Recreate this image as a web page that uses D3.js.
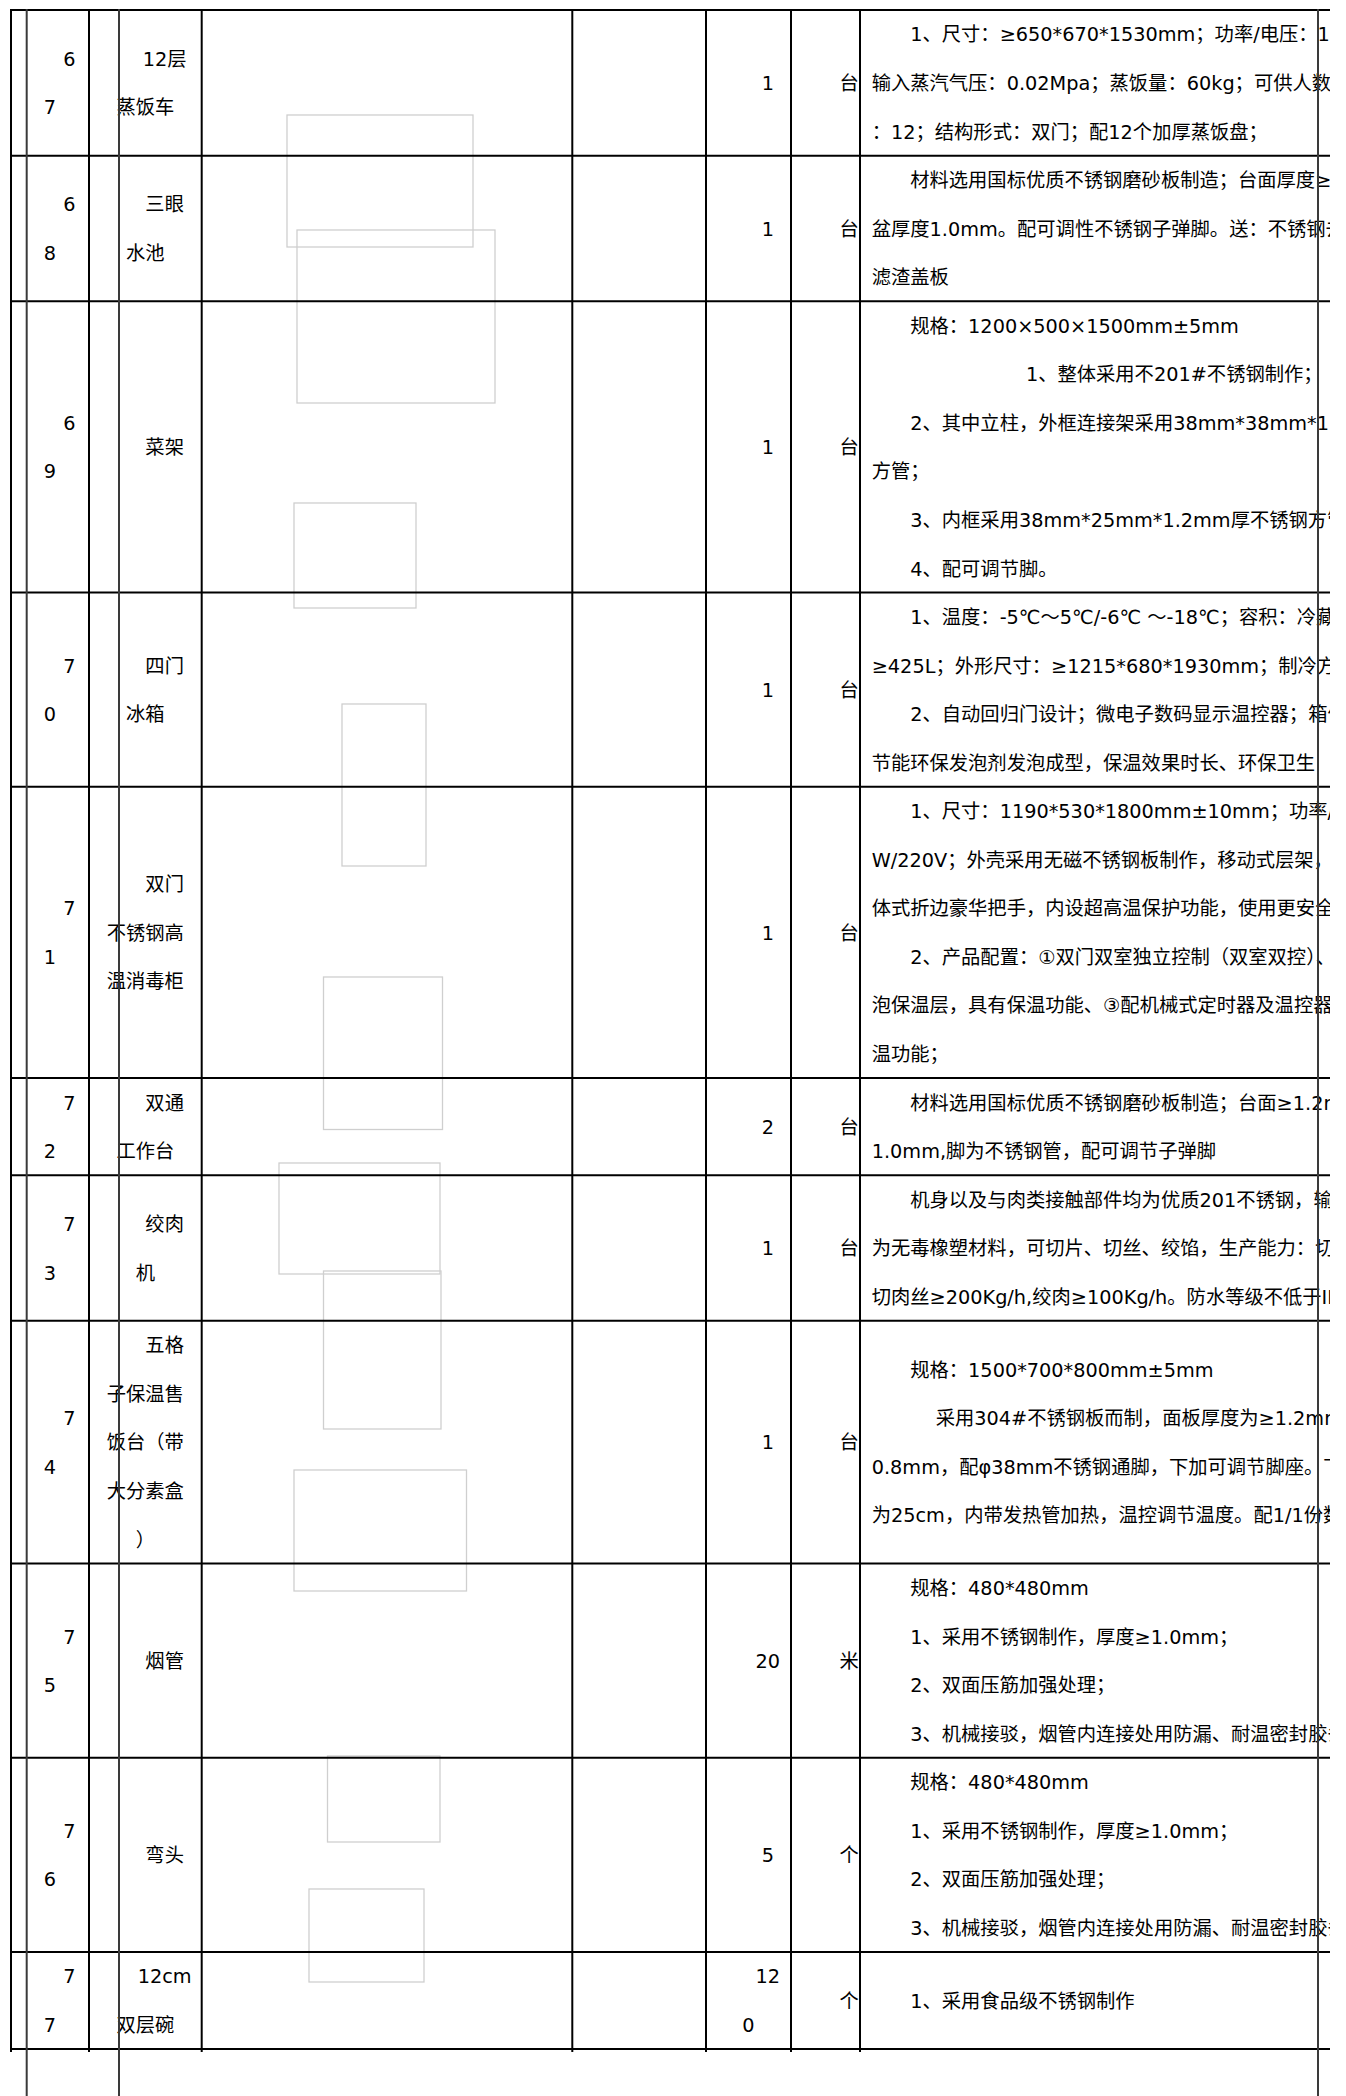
<!DOCTYPE html>
<html><head><meta charset="utf-8">
<script src="https://cdn.jsdelivr.net/npm/d3@7"></script>
<style>
html,body{margin:0;padding:0;background:#fff;}
svg{display:block;}
text{font-family:"DejaVu Sans","Noto Sans CJK SC",sans-serif;font-size:19.3px;fill:#000;white-space:pre;}
</style></head><body>
<svg id="c" width="1346" height="2096"></svg>
<script>
// ---------- data ----------
const itemNos = ["67","68","69","70","71","72","73","74","75","76","77"];
const itemNames = ["12层蒸饭车","三眼水池","菜架","四门冰箱","双门不锈钢高温消毒柜","双通工作台","绞肉机","五格子保温售饭台（带大分素盒）","烟管","弯头","12cm双层碗"];
const quantities = ["1","1","1","1","1","2","1","1","20","5","120"];
const units = ["台","台","台","台","台","台","台","台","米","个","个"];
const I = "\u3000\u3000";
const specLines = [
  [I+"1、尺寸：≥650*670*1530mm；功率/电压：12kW/380V", "输入蒸汽气压：0.02Mpa；蒸饭量：60kg；可供人数", "：12；结构形式：双门；配12个加厚蒸饭盘；"],
  [I+"材料选用国标优质不锈钢磨砂板制造；台面厚度≥1.2mm", "盆厚度1.0mm。配可调性不锈钢子弹脚。送：不锈钢去", "滤渣盖板"],
  [I+"规格：1200×500×1500mm±5mm", I+I+I+I+"1、整体采用不201#不锈钢制作；", I+"2、其中立柱，外框连接架采用38mm*38mm*1.2mm厚", "方管；", I+"3、内框采用38mm*25mm*1.2mm厚不锈钢方管", I+"4、配可调节脚。"],
  [I+"1、温度：-5℃～5℃/-6℃ ～-18℃；容积：冷藏", "≥425L；外形尺寸：≥1215*680*1930mm；制冷方式", I+"2、自动回归门设计；微电子数码显示温控器；箱体", "节能环保发泡剂发泡成型，保温效果时长、环保卫生"],
  [I+"1、尺寸：1190*530*1800mm±10mm；功率/", "W/220V；外壳采用无磁不锈钢板制作，移动式层架，", "体式折边豪华把手，内设超高温保护功能，使用更安全", I+"2、产品配置：①双门双室独立控制（双室双控）、", "泡保温层，具有保温功能、③配机械式定时器及温控器", "温功能；"],
  [I+"材料选用国标优质不锈钢磨砂板制造；台面≥1.2mm", "1.0mm,脚为不锈钢管，配可调节子弹脚"],
  [I+"机身以及与肉类接触部件均为优质201不锈钢，输", "为无毒橡塑材料，可切片、切丝、绞馅，生产能力：切", "切肉丝≥200Kg/h,绞肉≥100Kg/h。防水等级不低于IPX4"],
  [I+"规格：1500*700*800mm±5mm", I+"\u3000 采用304#不锈钢板而制，面板厚度为≥1.2mm", "0.8mm，配φ38mm不锈钢通脚，下加可调节脚座。下", "为25cm，内带发热管加热，温控调节温度。配1/1份数"],
  [I+"规格：480*480mm", I+"1、采用不锈钢制作，厚度≥1.0mm；", I+"2、双面压筋加强处理；", I+"3、机械接驳，烟管内连接处用防漏、耐温密封胶条"],
  [I+"规格：480*480mm", I+"1、采用不锈钢制作，厚度≥1.0mm；", I+"2、双面压筋加强处理；", I+"3、机械接驳，烟管内连接处用防漏、耐温密封胶条"],
  [I+"1、采用食品级不锈钢制作"]
];

// ---------- layout ----------
const W = 1346, H = 2096;
const FS = 19.3, LINE_H = 48.55, TOP = 10, IND = 2 * FS;
const colEdges = [11, 89, 201.7, 572.3, 706, 791, 860, 1330];
const overlayLines = [26.7, 119, 1318];
const photoFrames = [
  [287,115,186,132],[297,230,198,173],[294,503,122,105],[342,704,84,162],
  [323.5,977,119,152.5],[279,1163,161,111],[323.5,1271,117.5,158],
  [294,1470,172.5,121],[327.5,1756,112.5,86],[309,1889,115,93]
];

const svg = d3.select("#c");
const defs = svg.append("defs");
defs.append("clipPath").attr("id","clipUnit").append("rect").attr("x",0).attr("y",0).attr("width",colEdges[6]).attr("height",H);
defs.append("clipPath").attr("id","clipSpec").append("rect").attr("x",0).attr("y",0).attr("width",colEdges[7]).attr("height",H);

// measuring
const meas = svg.append("text").attr("x",-1000).attr("y",-1000);
function tw(s){ meas.text(s); return meas.node().getComputedTextLength(); }

function wrapChars(str, cw){
  const lines = []; let cur = ""; let first = true;
  for (const ch of Array.from(str)) {
    const avail = first ? cw - IND : cw;
    if (cur && tw(cur + ch) > avail + 0.6) { lines.push(cur); cur = ch; first = false; }
    else cur += ch;
  }
  if (cur) lines.push(cur);
  return lines;
}

const pad = [10, 9.5, 10, 10, 10];
const centerCols = [
  {col:0, data:itemNos, pad:10},
  {col:1, data:itemNames, pad:9.2},
  {col:4, data:quantities, pad:10},
  {col:5, data:units, pad:10}
];
centerCols.forEach(c => { c.lines = c.data.map(s => wrapChars(s, colEdges[c.col+1]-colEdges[c.col]-2*c.pad)); });
meas.remove();

const rowLines = itemNos.map((_, i) => Math.max(specLines[i].length, ...centerCols.map(c => c.lines[i].length)));
const rowStart = d3.cumsum([0, ...rowLines]);
const total = rowStart[rowStart.length-1];
const y = d3.scaleLinear().domain([0, total]).range([TOP, TOP + total*LINE_H]);

// photo placeholders
svg.append("g").selectAll("rect").data(photoFrames).join("rect")
  .attr("x", d=>d[0]).attr("y", d=>d[1]).attr("width", d=>d[2]).attr("height", d=>d[3])
  .attr("fill","none").attr("stroke","#cfcfcf").attr("stroke-width",1.3);

// text
const BASE = 7.2;
const gText = svg.append("g");
centerCols.forEach(c => {
  const cl = colEdges[c.col] + c.pad, cr = colEdges[c.col+1] - c.pad;
  const g = gText.append("g");
  if (c.col === 5) g.attr("clip-path","url(#clipUnit)");
  c.lines.forEach((lines, i) => {
    const off = (rowLines[i] - lines.length) / 2;
    lines.forEach((ln, k) => {
      const l0 = k === 0 ? cl + IND : cl;
      const t = g.append("text").text(ln).attr("y", (y(rowStart[i] + off + k + 0.5) + BASE));
      const w = t.node().getComputedTextLength();
      if (w > cr - l0) t.attr("x", l0);
      else t.attr("x", (l0 + cr) / 2).attr("text-anchor","middle");
    });
  });
});
const gSpec = gText.append("g").attr("clip-path","url(#clipSpec)");
specLines.forEach((lines, i) => {
  const off = (rowLines[i] - lines.length) / 2;
  gSpec.selectAll(null).data(lines).join("text")
    .attr("x", colEdges[6] + 11.7)
    .attr("y", (d, k) => y(rowStart[i] + off + k + 0.5) + BASE)
    .text(d => d);
});

// grid lines
const gGrid = svg.append("g");
gGrid.selectAll("line.h").data(rowStart).join("line").attr("class","h")
  .attr("x1", colEdges[0]-1).attr("x2", colEdges[7])
  .attr("y1", d=>y(d)).attr("y2", d=>y(d))
  .attr("stroke","#000").attr("stroke-width",2);
gGrid.selectAll("line.v").data(colEdges.slice(0,7)).join("line").attr("class","v")
  .attr("x1", d=>d).attr("x2", d=>d)
  .attr("y1", y(0)-1).attr("y2", y(total)+3)
  .attr("stroke","#000").attr("stroke-width",2);
gGrid.selectAll("line.o").data(overlayLines).join("line").attr("class","o")
  .attr("x1", d=>d).attr("x2", d=>d)
  .attr("y1", y(0)-1).attr("y2", H)
  .attr("stroke","#3a3a3a").attr("stroke-width",2);
</script>
</body></html>
